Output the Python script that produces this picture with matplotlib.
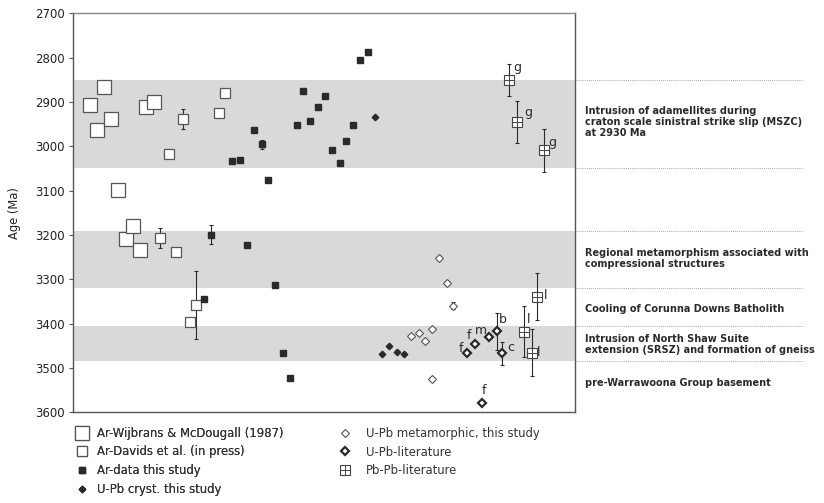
import matplotlib
matplotlib.use("Agg")
import matplotlib.pyplot as plt
import matplotlib.transforms as mtransforms
from matplotlib.legend_handler import HandlerTuple

# ---------------- data ----------------
yticks = [2700, 2800, 2900, 3000, 3100, 3200, 3300, 3400, 3500, 3600]
bands = [(2850, 3050), (3190, 3320), (3405, 3485)]
band_lines = [2850, 3050, 3190, 3320, 3405, 3485]
event_labels = [
    "Intrusion of adamellites during\ncraton scale sinistral strike slip (MSZC)\nat 2930 Ma",
    "Regional metamorphism associated with\ncompressional structures",
    "Cooling of Corunna Downs Batholith",
    "Intrusion of North Shaw Suite\nextension (SRSZ) and formation of gneiss",
    "pre-Warrawoona Group basement",
]
event_ages = [2945, 3254, 3367, 3448, 3534]

# sample positions (arbitrary horizontal order) and ages (Ma)
wij_x = [90, 104, 97, 111, 146, 154, 118, 126, 133, 140]
wij_age = [2907, 2866, 2963, 2939, 2912, 2899, 3099, 3208, 3180, 3234]

dav_x = [160, 176, 183, 169, 225, 219, 196, 190]
dav_age = [3207, 3239, 2938, 3017, 2880, 2924, 3358, 3396]
dav_err = [22, 8, 22, 6, 0, 0, 76, 0]

ar_x = [254, 262, 232, 240, 268, 211, 247, 275, 204, 303, 325, 318, 310, 297,
        353, 346, 332, 340, 360, 368, 283, 290]
ar_age = [2963, 2995, 3034, 3030, 3076, 3199, 3223, 3313, 3345, 2876, 2887, 2911,
          2944, 2952, 2952, 2989, 3009, 3038, 2806, 2787, 3466, 3523]
ar_err = [0, 10, 0, 0, 0, 22, 0, 0, 0, 0, 0, 0, 0, 0, 0, 0, 0, 0, 0, 0, 0, 0]

cryst_x = [375, 382, 389, 397, 404]
cryst_age = [2935, 3469, 3451, 3464, 3469]

meta_x = [439, 447, 453, 411, 419, 432, 425, 432]
meta_age = [3252, 3309, 3360, 3427, 3421, 3413, 3440, 3526]
meta_err = [0, 0, 8, 0, 0, 0, 0, 0]

lit_x = [467, 475, 489, 497, 502, 482]
lit_age = [3467, 3447, 3430, 3417, 3467, 3580]
lit_err = [0, 0, 0, 42, 26, 0]
lit_lab = ["f", "f", "m", "b", "c", "f"]

pb_x = [509, 517, 544, 537, 524, 532]
pb_age = [2850, 2945, 3009, 3339, 3418, 3466]
pb_err = [36, 47, 49, 53, 57, 53]
pb_lab = ["g", "g", "g", "l", "l", "l"]

# ---------------- figure ----------------
W, H = 824, 503
fig = plt.figure(figsize=(W / 100, H / 100), dpi=100)
ax = fig.add_axes([73 / W, 1 - 412.3 / H, (575 - 73) / W, (412.3 - 13.3) / H])
ax.set_xlim(73, 575)
ax.set_ylim(3600, 2700)

dark = "#2a2a2a"
for lo, hi in bands:
    ax.axhspan(lo, hi, color="#d9d9d9", lw=0, zorder=0)

ax.set_yticks(yticks)
ax.set_xticks([])
ax.tick_params(axis="y", length=3, width=0.8, color="#555", labelsize=8.5,
               labelcolor="#222", pad=3)
for s in ax.spines.values():
    s.set_color("#555")
    s.set_linewidth(1.0)
ax.spines["top"].set_color("#888")
ax.set_ylabel("Age (Ma)", fontsize=8.3, color="#222", labelpad=10)

eb = dict(fmt="none", ecolor=dark, elinewidth=0.8, capsize=1.5, capthick=0.8, zorder=3)

# Ar-Wijbrans
h_wij, = ax.plot(wij_x, wij_age, "s", ms=10.5, mfc="white", mec="#555", mew=0.9,
                 ls="none", zorder=4)
# Ar-Davids
ax.errorbar(dav_x, dav_age, yerr=dav_err, **eb)
h_dav, = ax.plot(dav_x, dav_age, "s", ms=7.5, mfc="white", mec="#555", mew=0.9,
                 ls="none", zorder=4)
# Ar this study
ax.errorbar(ar_x, ar_age, yerr=ar_err, **eb)
h_ar, = ax.plot(ar_x, ar_age, "s", ms=4.2, mfc=dark, mec=dark, ls="none", zorder=4)
# U-Pb cryst
h_cr, = ax.plot(cryst_x, cryst_age, "D", ms=3.3, mfc=dark, mec=dark, ls="none", zorder=4)
# U-Pb metamorphic
ax.errorbar(meta_x, meta_age, yerr=meta_err, **eb)
h_me, = ax.plot(meta_x, meta_age, "D", ms=4.0, mfc="white", mec="#555", mew=0.8,
                ls="none", zorder=4)
# U-Pb literature
ax.errorbar(lit_x, lit_age, yerr=lit_err, **eb)
h_li, = ax.plot(lit_x, lit_age, "D", ms=4.3, mfc="white", mec=dark, mew=1.6,
                ls="none", zorder=4)
# Pb-Pb literature
ax.errorbar(pb_x, pb_age, yerr=pb_err, **eb)
h_pb1, = ax.plot(pb_x, pb_age, "s", ms=6.5, mfc="white", mec="#444", mew=0.8,
                 ls="none", zorder=4)
h_pb2, = ax.plot(pb_x, pb_age, "+", ms=6.5, mec="#444", mew=0.7, ls="none", zorder=5)

# point labels (offsets in points)
lit_off = [(-4.5, 3.6), (-4.3, 6.5), (-6.0, 4.3), (4.3, 8.6), (6.5, 4.3), (1.4, 9.4)]
for (x, a, t), (dx, dy) in zip(zip(lit_x, lit_age, lit_lab), lit_off):
    ax.annotate(t, (x, a), xytext=(dx, dy), textcoords="offset points",
                ha="center", va="center", fontsize=9, color=dark)
pb_off = [(3, 8.6), (5, 6.5), (3, 5.8), (5, 0.5), (2, 8.6), (3.6, 0.5)]
for (x, a, t), (dx, dy) in zip(zip(pb_x, pb_age, pb_lab), pb_off):
    ax.annotate(t, (x, a), xytext=(dx, dy), textcoords="offset points",
                ha="left", va="center", fontsize=9, color=dark)

# right-side event lines and labels
trans = mtransforms.blended_transform_factory(ax.transAxes, ax.transData)
for yv in band_lines:
    ax.plot([1.0, (803 - 73) / (575 - 73)], [yv, yv], transform=trans,
            color="#aaa", lw=0.7, ls=(0, (1, 1)), clip_on=False)
for lab, age in zip(event_labels, event_ages):
    ax.text((585 - 73) / (575 - 73), age, lab, transform=trans, ha="left",
            va="center", fontsize=7.05, fontweight="bold", color="#2a2a2a",
            linespacing=1.12)

# legends
leg_kw = dict(frameon=False, fontsize=8.4, handlelength=1.2,
              labelspacing=0.5, borderaxespad=0, labelcolor="#333")
leg1 = fig.legend([h_wij, h_dav, h_ar, h_cr],
                  ["Ar-Wijbrans & McDougall (1987)", "Ar-Davids et al. (in press)",
                   "Ar-data this study", "U-Pb cryst. this study"],
                  loc="upper left", bbox_to_anchor=(70 / W, 1 - 422 / H),
                  handletextpad=0.7, **leg_kw)
fig.add_artist(leg1)
leg2 = fig.legend([h_me, h_li, (h_pb1, h_pb2)],
                  ["U-Pb metamorphic, this study", "U-Pb-literature", "Pb-Pb-literature"],
                  loc="upper left", bbox_to_anchor=(333 / W, 1 - 422 / H),
                  handletextpad=1.2,
                  handler_map={tuple: HandlerTuple(ndivide=1)}, **leg_kw)

fig.savefig("out.png", dpi=100)
